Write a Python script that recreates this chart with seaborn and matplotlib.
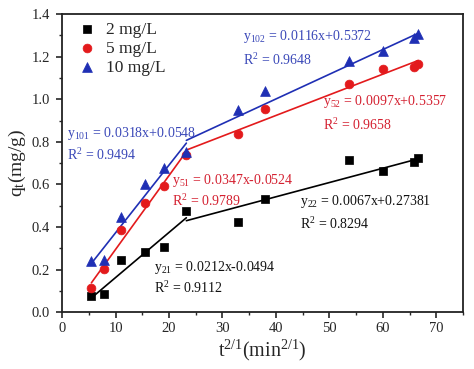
import numpy as np
import pandas as pd
import matplotlib
matplotlib.use("Agg")
import matplotlib.pyplot as plt
import seaborn as sns
from matplotlib.ticker import MultipleLocator

# ---- data ----
t_half = [5.48, 7.75, 10.95, 15.49, 18.97, 23.24, 32.86, 37.95, 53.67, 60.0, 65.73, 66.6]
q_2 = [0.074, 0.085, 0.244, 0.283, 0.304, 0.474, 0.424, 0.533, 0.713, 0.662, 0.704, 0.723]
q_5 = [0.114, 0.204, 0.384, 0.512, 0.593, 0.740, 0.836, 0.953, 1.070, 1.140, 1.150, 1.164]
q_10 = [0.238, 0.247, 0.447, 0.604, 0.675, 0.752, 0.948, 1.040, 1.180, 1.225, 1.286, 1.305]
series = ["2 mg/L", "5 mg/L", "10 mg/L"]

slope1 = [0.0212, 0.0347, 0.0318]
icpt1 = [-0.0494, -0.0524, 0.0548]
slope2 = [0.0067, 0.0097, 0.0116]
icpt2 = [0.27381, 0.5357, 0.5372]
r2_1 = ["0.9112", "0.9789", "0.9494"]
r2_2 = ["0.8294", "0.9658", "0.9648"]
eq1 = ["0.0212x-0.0494", "0.0347x-0.0524", "0.0318x+0.0548"]
eq2 = ["0.0067x+0.27381", "0.0097x+0.5357", "0.0116x+0.5372"]
sub1 = ["21", "51", "101"]
sub2 = ["22", "52", "102"]
seg1 = [5.48, 23.24]
seg2 = [23.24, 66.6]

colors = ["#000000", "#e31a1c", "#1f2fb4"]
text_colors = ["#111111", "#d42030", "#3a48b8"]
markers = ["s", "o", "^"]
msizes = [28, 40, 50]

sns.set_style("ticks")
plt.rcParams["font.family"] = ["Liberation Serif", "DejaVu Serif"]
plt.rcParams["mathtext.fontset"] = "custom"
plt.rcParams["mathtext.rm"] = "Liberation Serif"
plt.rcParams["mathtext.it"] = "Liberation Serif:italic"
plt.rcParams["mathtext.default"] = "regular"

fig = plt.figure(figsize=(4.74, 3.69), dpi=100)
ax = fig.add_axes([0.131, 0.154, 0.846, 0.808])

df = pd.DataFrame({
    "t": t_half * 3,
    "q": q_2 + q_5 + q_10,
    "series": sum([[s] * len(t_half) for s in series], []),
})

for i, s in enumerate(series):
    sub = df[df["series"] == s]
    sns.scatterplot(data=sub, x="t", y="q", marker=markers[i], s=msizes[i],
                    color=colors[i], edgecolor=colors[i], linewidth=0.5,
                    ax=ax, label=s, zorder=3)
    x1 = np.array(seg1)
    x2 = np.array(seg2)
    sns.lineplot(x=x1, y=slope1[i] * x1 + icpt1[i], color=colors[i], lw=1.2, ax=ax, zorder=2)
    sns.lineplot(x=x2, y=slope2[i] * x2 + icpt2[i], color=colors[i], lw=1.2, ax=ax, zorder=2)

# annotations (text positions)
pos1 = [(17.1, 0.21, 0.111), (20.5, 0.62, 0.521), (0.9, 0.841, 0.737)]
pos2 = [(44.5, 0.518, 0.413), (48.8, 0.988, 0.881), (33.8, 1.293, 1.184)]
for i in range(3):
    x, ya, yb = pos1[i]
    ax.text(x, ya, "y$_{%s}$ = %s" % (sub1[i], eq1[i]), color=text_colors[i],
            fontsize=10, va="center", ha="left")
    ax.text(x, yb, "R$^{2}$ = %s" % r2_1[i], color=text_colors[i],
            fontsize=10, va="center", ha="left")
    x, ya, yb = pos2[i]
    ax.text(x, ya, "y$_{%s}$ = %s" % (sub2[i], eq2[i]), color=text_colors[i],
            fontsize=10, va="center", ha="left")
    ax.text(x, yb, "R$^{2}$ = %s" % r2_2[i], color=text_colors[i],
            fontsize=10, va="center", ha="left")

ax.set_xlim(0, 75)
ax.set_ylim(0, 1.4)
ax.xaxis.set_major_locator(MultipleLocator(10))
ax.xaxis.set_minor_locator(MultipleLocator(5))
ax.yaxis.set_major_locator(MultipleLocator(0.2))
ax.yaxis.set_minor_locator(MultipleLocator(0.1))
ax.yaxis.set_major_formatter(matplotlib.ticker.FormatStrFormatter("%.1f"))
ax.tick_params(which="major", direction="out", length=4, width=1.2, labelsize=10.5)
ax.tick_params(which="minor", direction="out", length=2.5, width=1.0)
ax.tick_params(axis="x", which="major", pad=3)
ax.tick_params(axis="y", which="major", pad=5)
for sp in ax.spines.values():
    sp.set_linewidth(1.3)
    sp.set_color("#222222")

ax.set_xlabel("t$^{2/1}$(min$^{2/1}$)", fontsize=14.5, labelpad=2)
ax.set_ylabel("q$_{t}$(mg/g)", fontsize=14, labelpad=2)

leg = ax.legend(loc="upper left", frameon=False, fontsize=12.5, handletextpad=0.6,
                handlelength=1.0, borderaxespad=0.0, borderpad=0.4,
                labelspacing=0.15, bbox_to_anchor=(0.022, 0.997))

fig.savefig("out.png", dpi=100)
